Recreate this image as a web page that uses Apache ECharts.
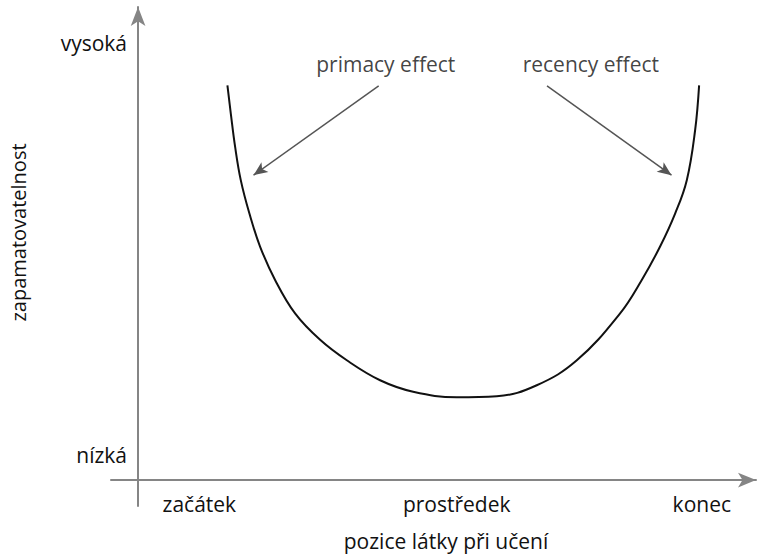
<!DOCTYPE html>
<html>
<head>
<meta charset="utf-8">
<script src="https://cdn.jsdelivr.net/npm/echarts@6/dist/echarts.min.js"></script>
<style>
  html, body { margin: 0; padding: 0; background: #fff; }
  #chart { width: 757px; height: 554px; }
</style>
</head>
<body>
<div id="chart"></div>
<script>
// axis ranges (the axes cross at 0, 0)
const xMin = -4.2, xMax = 95.8
const yMin = -5.2, yMax = 94.8

// U-shaped curve
const curveX = [13.85, 14.37, 15.04, 15.92, 17.26, 18.91, 21.24, 24.34, 28.22, 32.36, 37.52, 42.64, 49.41, 55.61, 61.81, 68.02, 74.73, 78.09, 80.93, 83.26, 85.07, 86.36, 86.98]
const curveY = [79.1, 73.5, 66.8, 60.1, 53.4, 46.8, 40.1, 33.4, 28.1, 24.0, 20.0, 17.7, 16.6, 16.8, 19.0, 24.0, 33.4, 40.1, 46.8, 53.4, 60.1, 70.1, 79.1]

// tick labels
const xTickValues = [9.5, 49.4, 87.4]
const xTickLabels = ['začátek', 'prostředek', 'konec']
const yTickValues = [5.0, 87.6]
const yTickLabels = ['nízká', 'vysoká']

// annotations
const noteLabels = ['primacy effect', 'recency effect']
const noteX = [38.4, 70.2]
const noteY = [83.4, 83.4]
const arrowFrom = [[37.3, 79.0], [63.4, 79.0]]
const arrowTo = [[17.9, 61.1], [82.7, 61.1]]

const font = '"Open Sans", "Noto Sans", sans-serif'
const fs = 21

const pickLabel = (values, labels) => (v) => {
  const i = values.findIndex(t => Math.abs(t - v) < 1e-6)
  return i >= 0 ? labels[i] : ''
}

const option = {
  animation: false,
  textStyle: { fontFamily: font },
  grid: { left: 111, right: 1, top: 7, bottom: 48, containLabel: false, outerBoundsMode: 'none' },
  xAxis: {
    type: 'value',
    min: xMin,
    max: xMax,
    name: 'pozice látky při učení',
    nameLocation: 'middle',
    nameGap: 24,
    nameTextStyle: { fontSize: fs, color: '#111', fontFamily: font, padding: [0, 0, 0, 25] },
    axisLine: {
      onZero: true,
      symbol: ['none', 'arrow'],
      symbolSize: [11, 18],
      lineStyle: { color: '#858585', width: 2 }
    },
    axisTick: { show: false },
    splitLine: { show: false },
    axisLabel: {
      customValues: xTickValues,
      formatter: pickLabel(xTickValues, xTickLabels),
      margin: -13,
      fontSize: fs,
      color: '#111',
      fontFamily: font
    }
  },
  yAxis: {
    type: 'value',
    min: yMin,
    max: yMax,
    name: 'zapamatovatelnost',
    nameLocation: 'middle',
    nameGap: 83,
    nameTextStyle: { fontSize: 20, color: '#111', fontFamily: font, padding: [0, 0, 0, 48] },
    axisLine: {
      onZero: true,
      symbol: ['none', 'arrow'],
      symbolSize: [11, 19],
      lineStyle: { color: '#858585', width: 2 }
    },
    axisTick: { show: false },
    splitLine: { show: false },
    axisLabel: {
      customValues: yTickValues,
      formatter: pickLabel(yTickValues, yTickLabels),
      margin: -16,
      fontSize: fs,
      color: '#111',
      fontFamily: font
    }
  },
  series: [
    {
      type: 'line',
      data: curveX.map((x, i) => [x, curveY[i]]),
      smooth: 0.4,
      symbol: 'none',
      lineStyle: { color: '#111', width: 2 },
      silent: true
    },
    {
      type: 'scatter',
      data: noteX.map((x, i) => [x, noteY[i]]),
      symbolSize: 0,
      silent: true,
      label: {
        show: true,
        position: 'inside',
        formatter: p => noteLabels[p.dataIndex],
        fontSize: fs,
        color: '#111',
        fontFamily: font
      },
      markLine: {
        silent: true,
        symbol: ['none', 'arrow'],
        symbolSize: [9, 14],
        label: { show: false },
        lineStyle: { color: '#555', width: 1.5, type: 'solid' },
        data: arrowFrom.map((a, i) => [{ coord: a }, { coord: arrowTo[i] }])
      }
    }
  ]
}

echarts.init(document.getElementById('chart'), null, { renderer: 'svg' }).setOption(option)
</script>
</body>
</html>
